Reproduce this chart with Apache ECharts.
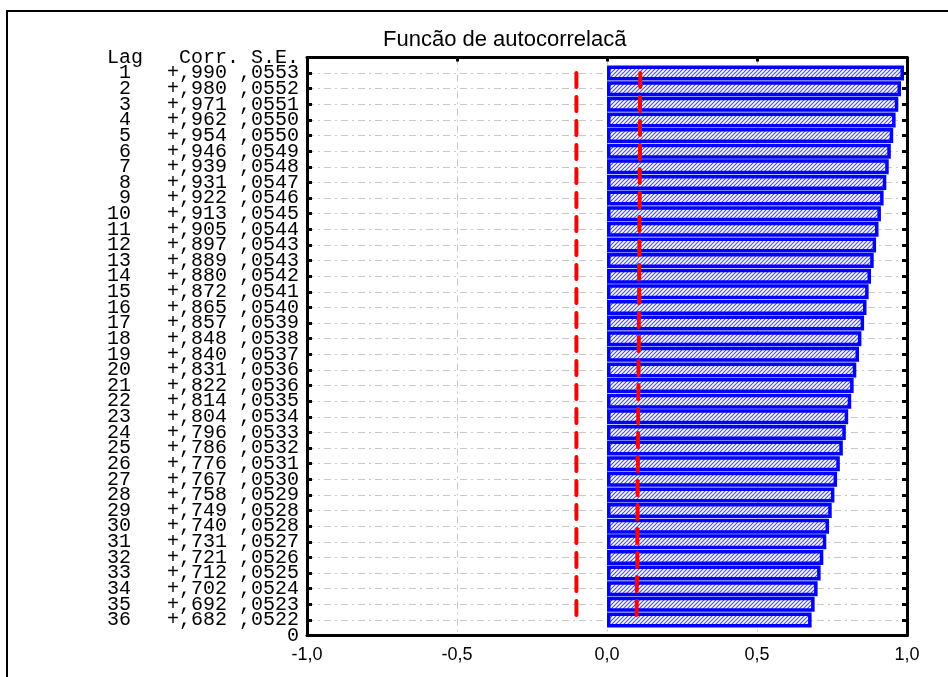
<!DOCTYPE html>
<html>
<head>
<meta charset="utf-8">
<script src="https://cdn.jsdelivr.net/npm/echarts@6/dist/echarts.min.js"></script>
<style>html,body{margin:0;padding:0;background:#fff;}#c{width:948px;height:677px;}</style>
</head>
<body>
<div id="c"></div>
<script>
const titleText = 'Funcão de autocorrelacão';
const headerText = 'Lag   Corr. S.E.';
const bottomText = '0';
const lags = [1,2,3,4,5,6,7,8,9,10,11,12,13,14,15,16,17,18,19,20,21,22,23,24,25,26,27,28,29,30,31,32,33,34,35,36];
const corr = [0.990,0.980,0.971,0.962,0.954,0.946,0.939,0.931,0.922,0.913,0.905,0.897,0.889,0.880,0.872,0.865,0.857,0.848,0.840,0.831,0.822,0.814,0.804,0.796,0.786,0.776,0.767,0.758,0.749,0.740,0.731,0.721,0.712,0.702,0.692,0.682];
const se = [0.0553,0.0552,0.0551,0.0550,0.0550,0.0549,0.0548,0.0547,0.0546,0.0545,0.0544,0.0543,0.0543,0.0542,0.0541,0.0540,0.0539,0.0538,0.0537,0.0536,0.0536,0.0535,0.0534,0.0533,0.0532,0.0531,0.0530,0.0529,0.0528,0.0528,0.0527,0.0526,0.0525,0.0524,0.0523,0.0522];
const upperLimit = [0.111,0.111,0.110,0.110,0.110,0.110,0.109,0.109,0.109,0.108,0.108,0.108,0.107,0.107,0.107,0.106,0.106,0.106,0.105,0.105,0.105,0.104,0.104,0.104,0.103,0.103,0.102,0.102,0.102,0.101,0.101,0.101,0.100,0.099,0.099,0.098];
const lowerLimit = [-0.102,-0.102,-0.102,-0.102,-0.102,-0.102,-0.102,-0.102,-0.102,-0.102,-0.102,-0.102,-0.102,-0.102,-0.102,-0.102,-0.102,-0.102,-0.102,-0.102,-0.102,-0.102,-0.102,-0.102,-0.102,-0.102,-0.102,-0.102,-0.102,-0.102,-0.102,-0.102,-0.102,-0.102,-0.102,-0.102];

const cats = ['hdr'].concat(lags.map(String)).concat(['end']);
function fmtCorr(v){ return '+' + v.toFixed(3).replace('0.', ','); }
function fmtSe(v){ return v.toFixed(4).replace('0.', ','); }
function rowLabel(v, idx){
  if (idx === 0) return headerText;
  if (idx === cats.length - 1) return bottomText;
  const i = idx - 1;
  const l = String(lags[i]).padStart(2, ' ');
  return l + '   ' + fmtCorr(corr[i]) + ' ' + fmtSe(se[i]);
}

const pc = document.createElement('canvas');
pc.width = 4; pc.height = 4;
const g = pc.getContext('2d');
g.fillStyle = '#ffffff'; g.fillRect(0,0,4,4);
g.strokeStyle = '#4646ff'; g.lineWidth = 1.1;
g.beginPath();
g.moveTo(0,4); g.lineTo(4,0);
g.moveTo(-1,1); g.lineTo(1,-1);
g.moveTo(3,5); g.lineTo(5,3);
g.stroke();

const gridDash = [7,4,2,4];
const chart = echarts.init(document.getElementById('c'), null, {renderer: 'canvas'});
chart.setOption({
  backgroundColor: '#ffffff',
  animation: false,
  title: {
    text: titleText,
    left: 378, top: 24,
    textStyle: {fontFamily: 'Liberation Sans', fontSize: 22, fontWeight: 'normal', color: '#000',
      width: 246, overflow: 'truncate', ellipsis: ''}
  },
  graphic: [{
    type: 'rect', shape: {x: 7, y: 11, width: 1200, height: 1000},
    style: {fill: 'none', stroke: '#000', lineWidth: 2}, silent: true
  }],
  grid: {left: 307, right: 41, top: 57.5, bottom: 41.5, containLabel: false},
  xAxis: [{
    type: 'value', min: -1, max: 1, interval: 0.5, position: 'bottom',
    axisLine: {show: true, onZero: false, lineStyle: {color: '#000', width: 3}},
    axisTick: {show: false},
    axisLabel: {fontFamily: 'Liberation Sans', fontSize: 18, color: '#000', margin: 11,
      formatter: v => v.toFixed(1).replace('.', ',')},
    splitLine: {show: true, lineStyle: {color: '#c8c8c8', width: 1, type: gridDash}}
  }, {
    type: 'value', min: -1, max: 1, interval: 0.5, position: 'top',
    axisLine: {show: true, onZero: false, lineStyle: {color: '#000', width: 3}},
    axisTick: {show: true, inside: true, length: 4, lineStyle: {color: '#000', width: 3}},
    axisLabel: {show: false}, splitLine: {show: false}
  }],
  yAxis: [{
    type: 'category', data: cats, inverse: true, boundaryGap: false, position: 'left',
    axisLine: {show: true, onZero: false, lineStyle: {color: '#000', width: 3}},
    axisTick: {show: true, inside: true, length: 5, interval: 0, lineStyle: {color: '#000', width: 3}},
    axisLabel: {interval: 0, fontFamily: 'Liberation Mono', fontSize: 20, color: '#000', margin: 8,
      formatter: rowLabel},
    splitLine: {show: true, interval: 0, lineStyle: {color: '#c8c8c8', width: 1, type: gridDash}}
  }, {
    type: 'category', data: cats, inverse: true, boundaryGap: false, position: 'right',
    axisLine: {show: true, onZero: false, lineStyle: {color: '#000', width: 3}},
    axisTick: {show: true, inside: true, length: 5, interval: 0, lineStyle: {color: '#000', width: 3}},
    axisLabel: {show: false}, splitLine: {show: false}
  }],
  series: [{
    type: 'bar', xAxisIndex: 0, yAxisIndex: 0,
    data: corr.map((c, i) => [c, String(lags[i])]),
    barWidth: 15,
    itemStyle: {color: {image: pc, repeat: 'repeat'}, borderColor: '#0000ff', borderWidth: 3.5},
    z: 2
  }, {
    type: 'line', xAxisIndex: 0, yAxisIndex: 0,
    data: upperLimit.map((u, i) => [u, String(lags[i])]),
    symbol: 'none',
    lineStyle: {color: '#ff0000', width: 4, type: [14, 10], cap: 'round'},
    z: 5
  }, {
    type: 'line', xAxisIndex: 0, yAxisIndex: 0,
    data: lowerLimit.map((u, i) => [u, String(lags[i])]),
    symbol: 'none',
    lineStyle: {color: '#ff0000', width: 4, type: [14, 10], cap: 'round'},
    z: 5
  }]
});
</script>
</body>
</html>
